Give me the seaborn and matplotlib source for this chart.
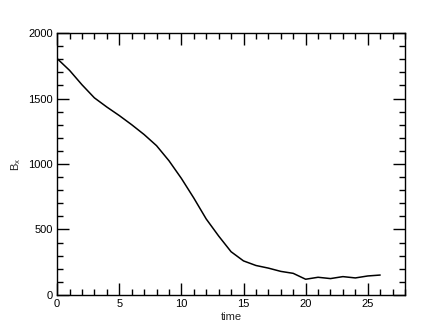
import numpy as np
import pandas as pd
import matplotlib
matplotlib.use("Agg")
import matplotlib.pyplot as plt
import seaborn as sns
from matplotlib.ticker import MultipleLocator

# --- data ---
time = [0, 1, 2, 3, 4, 5, 6, 7, 8, 9, 10, 11, 12, 13, 14, 15, 16, 17, 18, 19, 20, 21, 22, 23, 24, 25, 26]
bx = [1805, 1715, 1605, 1505, 1435, 1370, 1300, 1225, 1140, 1025, 890, 740, 580, 450, 330,
      260, 225, 205, 180, 165, 120, 135, 125, 140, 130, 145, 152]

df = pd.DataFrame({"time": time, "Bx": bx})

sns.set_style("ticks")
plt.rcParams['font.family'] = ['Liberation Sans', 'DejaVu Sans']
plt.rcParams['mathtext.fontset'] = 'custom'
plt.rcParams['mathtext.rm'] = 'Liberation Sans'
plt.rcParams['mathtext.it'] = 'Liberation Sans'

fig = plt.figure(figsize=(4.36, 3.27), dpi=100)
ax = fig.add_axes([0.131, 0.098, 0.798, 0.801])

sns.lineplot(data=df, x="time", y="Bx", ax=ax, color="black", linewidth=1.1)

ax.set_xlim(0, 28)
ax.set_ylim(0, 2000)
ax.xaxis.set_major_locator(MultipleLocator(5))
ax.xaxis.set_minor_locator(MultipleLocator(1))
ax.yaxis.set_major_locator(MultipleLocator(500))
ax.yaxis.set_minor_locator(MultipleLocator(100))

ax.tick_params(which="both", direction="in", top=True, right=True, colors="black",
               labelsize=8, width=1)
ax.tick_params(which="major", length=8.5, pad=3)
ax.tick_params(which="minor", length=4.5)
for s in ax.spines.values():
    s.set_visible(True)
    s.set_linewidth(1)
    s.set_color("black")

ax.set_xlabel("time", fontsize=8, labelpad=2)
ax.set_ylabel(r"$\mathregular{B_x}$", fontsize=8, labelpad=4)

plt.savefig("out.png", dpi=100)
